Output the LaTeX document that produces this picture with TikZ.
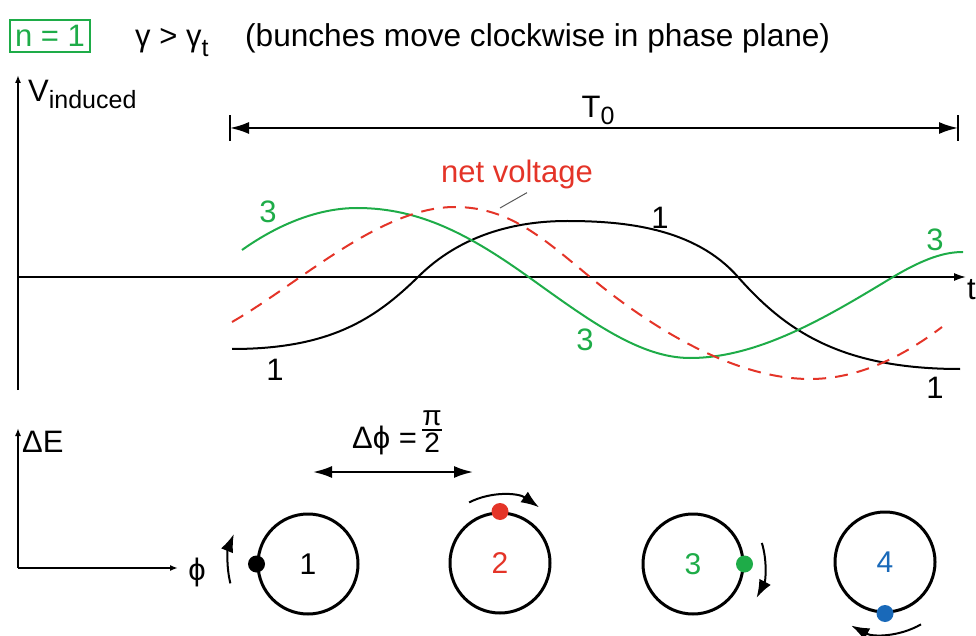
\documentclass[tikz,border=0pt]{standalone}
\usepackage{fontspec}
\setmainfont{Liberation Sans}
\usetikzlibrary{arrows.meta,positioning}
\definecolor{bgreen}{RGB}{30,172,72}
\definecolor{bred}{RGB}{228,52,40}
\definecolor{bblue}{RGB}{25,105,185}
\newcommand{\lowsub}[2][7pt]{\raisebox{-#1}{\fontsize{25}{25}\selectfont #2}}

\begin{document}
\begin{tikzpicture}[x=1pt,y=1pt,>=Latex,node distance=6pt]
  \tikzstyle{lbl}=[inner sep=0pt,font=\fontsize{31}{36}\selectfont]
  \tikzstyle{curve}=[line width=2pt]
  \tikzstyle{ring}=[circle,draw,line width=3pt,minimum size=100pt,inner sep=0pt,font=\fontsize{30}{34}\selectfont]
  \tikzstyle{dot}=[circle,fill,minimum size=17pt,inner sep=0pt]
  \tikzstyle{turn}=[line width=2pt,-{Latex[length=18pt,width=13pt]}]
  \tikzstyle{axis}=[line width=1.6pt,-{Latex[length=8pt,width=6pt]}]
  \tikzstyle{span}=[line width=2pt,{Latex[length=19pt,width=12pt]}-{Latex[length=19pt,width=12pt]}]
  \useasboundingbox (0,0) rectangle (976,635);

  % heading
  \node[lbl,draw=bgreen,text=bgreen,line width=1.5pt,minimum width=80pt,minimum height=32pt] (n1) at (50,599) {n = 1};
  \node[lbl,anchor=base west] (gam) at (135,588) {γ > γ\lowsub[10pt]{t}};
  \node[lbl,anchor=base west,font=\fontsize{31.6}{36}\selectfont] (head) at (245,588) {(bunches move clockwise in phase plane)};

  % induced voltage
  \coordinate (vo) at (18,245);
  \coordinate (vtop) at (18,560);
  \coordinate (to) at (18,358);
  \coordinate (tend) at (966,358);
  \draw[axis] (vo) -- (vtop);
  \draw[line width=1.6pt,-{Latex[length=12pt,width=8pt]}] (to) -- (tend);
  \node[lbl,anchor=base west] (vlab) at (28,533) {V\lowsub{induced}};
  \node[lbl,anchor=base west] (tlab) at (967,335) {t};

  \coordinate (ta) at (230,507);
  \coordinate (tb) at (958,507);
  \draw[line width=2pt] ([yshift=-13pt]ta) -- ([yshift=13pt]ta);
  \draw[line width=2pt] ([yshift=-13pt]tb) -- ([yshift=13pt]tb);
  \draw[span] (ta) -- (tb);
  \node[lbl,anchor=base] (T0lab) at (598,517) {T\lowsub{0}};

  % bunch 1, bunch 3 and their sum
  \draw[curve] (232,286) .. controls (330,286) and (375,316) .. (418,358)
    .. controls (460,400) and (515,414) .. (567,414)
    .. controls (625,414) and (695,407) .. (738,358)
    .. controls (785,305) and (840,266) .. (960,266);
  \draw[curve,bgreen] (242,385) .. controls (280,412) and (320,427) .. (357,427)
    .. controls (420,427) and (470,400) .. (530,357)
    .. controls (590,314) and (640,277) .. (690,277)
    .. controls (760,277) and (830,320) .. (893,358)
    .. controls (925,377) and (945,383) .. (963,383);
  \draw[curve,bred,dash pattern=on 13pt off 9pt] (232,313) .. controls (300,352) and (380,428) .. (455,428)
    .. controls (510,428) and (545,395) .. (590,358)
    .. controls (660,300) and (740,256) .. (810,256)
    .. controls (860,256) and (905,280) .. (942,308);

  \node[lbl,text=bgreen] (g3a) at (268,423) {3};
  \node[lbl,text=bgreen] (g3b) at (585,295) {3};
  \node[lbl,text=bgreen] (g3c) at (935,395) {3};
  \node[lbl] (b1a) at (275,265) {1};
  \node[lbl] (b1b) at (660,417) {1};
  \node[lbl] (b1c) at (935,247) {1};
  \node[lbl,text=bred] (nv) at (517,461) {net voltage};
  \coordinate (lead) at (500,427);
  \draw[gray!70!black,line width=1pt] ([xshift=10pt,yshift=-4pt]nv.south) -- (lead);

  % phase plane
  \coordinate (po) at (18,67);
  \coordinate (de) at (18,207);
  \coordinate (pe) at (178,67);
  \draw[axis] (po) -- (de);
  \draw[axis] (po) -- (pe);
  \node[lbl,anchor=base west] (delab) at (22,183) {ΔE};
  \node[lbl] (philab) at (197,63) {ϕ};
  \node[lbl,anchor=base west] (dphi) at (352,187) {Δϕ =};
  \node[inner sep=0pt,font=\fontsize{28}{28}\selectfont,anchor=west] (frac) at ([xshift=5pt,yshift=7pt]dphi.east) {\setlength{\arrayrulewidth}{1.6pt}\begin{tabular}{@{}c@{}}π\\[-4pt]\hline\rule{0pt}{21pt}2\end{tabular}};
  \coordinate (da) at (313,163);
  \coordinate (db) at (473,163);
  \draw[span] (da) -- (db);

  \node[ring] (c1) at (308,71) {1};
  \node[ring,text=bred] (c2) at (500,72) {2};
  \node[ring,text=bgreen] (c3) at (693,71) {3};
  \node[ring,text=bblue] (c4) at (885,73) {4};
  \node[dot] (d1) at (c1.west) {};
  \node[dot,bred] (d2) at (c2.north) {};
  \node[dot,bgreen] (d3) at (c3.east) {};
  \node[dot,bblue] (d4) at (c4.south) {};
  \draw[turn] ([shift={(194:80)}]c1.center) arc[start angle=194,end angle=158,radius=80];
  \draw[turn] ([shift={(117:68)}]c2.center) arc[start angle=117,end angle=55,radius=68];
  \draw[turn] ([shift={(17:72)}]c3.center) arc[start angle=17,end angle=-28,radius=72];
  \draw[turn] ([shift={(-60:72)}]c4.center) arc[start angle=-60,end angle=-118,radius=72];
\end{tikzpicture}
\end{document}
